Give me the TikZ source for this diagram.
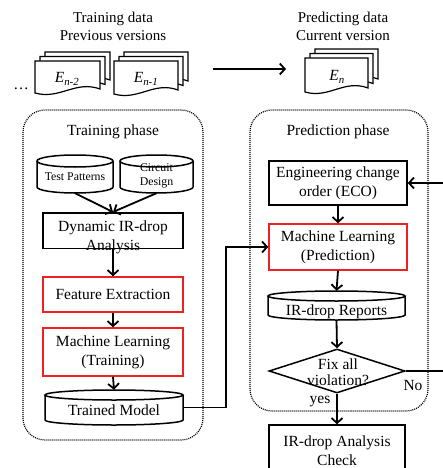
\documentclass[tikz,border=0pt]{standalone}
\usepackage{fontspec}
\setmainfont{Liberation Serif}
\usetikzlibrary{arrows.meta,calc,shapes.geometric}
\definecolor{myred}{RGB}{238,32,36}
\newcommand\fs{\fontsize{15.5}{19}\selectfont}
\newcommand\fst{\fontsize{15}{18}\selectfont}
\newcommand\fsm{\fontsize{11.8}{14}\selectfont}
\tikzset{
  boxln/.style={line width=1.5pt},
  arr/.style={line width=1.8pt, -{Straight Barb[length=5pt,width=11pt]}},
  pbox/.style={draw, boxln, inner sep=0pt, align=center, font=\fs},
  rbox/.style={pbox, draw=myred},
  phasebox/.style={draw, dash pattern=on 1pt off 1pt, line width=1.2pt, rounded corners=22pt},
  lbl/.style={inner sep=0pt, align=center, font=\fs},
  sheetln/.style={line width=1.2pt, fill=white},
}
% cylinder: name, cx, cy, w, h, ry, text y, font, text
\newcommand\drum[9]{%
  \draw[boxln, fill=white] (#2-#4/2,#3-#5/2+#6) -- (#2-#4/2,#3+#5/2-#6)
     arc[start angle=180,end angle=0,x radius=#4/2,y radius=#6] -- (#2+#4/2,#3-#5/2+#6);
  \draw[boxln] (#2,#3-#5/2+#6) ellipse[x radius=#4/2,y radius=#6];
  \node[inner sep=0pt, minimum width=#4pt, minimum height=#5pt] (#1) at (#2,#3) {};
  \node[inner sep=0pt, align=center, font=#8] (#1t) at (#2,#7) {#9};
}
% one sheet: x, y (top left), w, h
\newcommand\sheet[4]{%
  \draw[sheetln] (#1,#2) -- (#1+#3,#2) -- (#1+#3,#2+#4-4)
    .. controls (#1+0.62*#3,#2+#4-13) and (#1+0.38*#3,#2+#4+7) .. (#1,#2+#4) -- cycle;
}
\newcommand\docstack[4]{%
  \sheet{#1+10}{#2-9}{#3}{#4}
  \sheet{#1+5}{#2-4.5}{#3}{#4}
  \sheet{#1}{#2}{#3}{#4}
}
\begin{document}
\begin{tikzpicture}[x=1pt,y=-1pt]
\useasboundingbox (0,0) rectangle (443,468);
\clip (0,0) rectangle (443,468);

% titles
\node[lbl, font=\fst] (ttrain) at (113,26) {Training data\\Previous versions};
\node[lbl, font=\fst] (tpred) at (343,26) {Predicting data\\Current version};

% document stacks
\docstack{35}{61}{65}{32}
\docstack{114}{61}{64}{33}
\docstack{305}{58}{63}{34}
\node[lbl] (en2) at (67,79) {\textit{E}\textsubscript{\textit{n-2}}};
\node[lbl] (en1) at (146,79) {\textit{E}\textsubscript{\textit{n-1}}};
\node[lbl] (en) at (337,77) {\textit{E}\textsubscript{\textit{n}}};
\node[lbl] (dots) at (21,89) {\ldots};
\coordinate (arrS) at (213,69);
\coordinate (arrE) at (286,69);
\draw[arr] (arrS) -- (arrE);

% phase boxes
\draw[phasebox] (23,110) rectangle (203,440);
\draw[phasebox] (250,110) rectangle (428,411);
\node[lbl] (trph) at (113,132) {Training phase};
\node[lbl] (prph) at (338,132) {Prediction phase};

% training phase
\drum{tp}{75}{174}{76}{38}{6}{177}{\fsm}{Test Patterns}
\drum{cd}{156.5}{174}{73}{38}{6}{176}{\fsm}{Circuit\\Design}
\node[pbox, minimum width=140pt, minimum height=35.5pt] (dyn) at (113,230.5) {};
\node[lbl] (dynt) at (113,237) {Dynamic IR-drop\\Analysis};
\node[rbox, minimum width=140pt, minimum height=35pt] (fe) at (113,294.5) {Feature Extraction};
\node[rbox, minimum width=140pt, minimum height=48pt] (mlt) at (113,352) {Machine Learning\\(Training)};
\drum{tm}{114}{407.5}{138}{35}{5}{410}{\fs}{Trained Model}

\draw[arr] (tp.south) -- (dyn.north);
\draw[arr] (cd.south) -- (dyn.north);
\draw[arr] (dyn.south) -- (fe.north);
\draw[arr] (fe.south) -- (mlt.north);
\draw[arr] (mlt.south) -- (tm.north);

% prediction phase
\node[pbox, minimum width=138pt, minimum height=44pt] (eco) at (338,183) {Engineering change\\order (ECO)};
\node[rbox, minimum width=138pt, minimum height=46pt] (mlp) at (338,247) {Machine Learning\\(Prediction)};
\drum{ird}{336.5}{305.5}{137}{29}{5}{312}{\fs}{IR-drop Reports}
\node[diamond, draw, boxln, inner sep=0pt, minimum width=136pt, minimum height=44pt] (dia) at (337,371) {};
\node[lbl, font=\fontsize{15.5}{16}\selectfont] (diat) at (338,372.5) {Fix all\\violation?};
\node[pbox, minimum width=136pt, minimum height=51pt] (chk) at (337,450.5) {IR-drop Analysis\\Check};
\node[lbl] (no) at (413,385) {No};
\node[lbl] (yes) at (320,402) {yes};

\draw[arr] (eco.south) -- (mlp.north);
\draw[arr] (mlp.south) -- (ird.north);
\draw[arr] (ird.south) -- (dia.north);
\draw[arr] (dia.south) -- (chk.north);

% model to prediction
\coordinate (bend) at ($(mlp.west)+(-42,0)$);
\draw[arr] (tm.east) -| (bend) -- (mlp.west);
% feedback loop
\coordinate (fb) at ($(dia.east)+(50,0)$);
\draw[arr] (dia.east) -- (fb) |- (eco.east);
\end{tikzpicture}
\end{document}
